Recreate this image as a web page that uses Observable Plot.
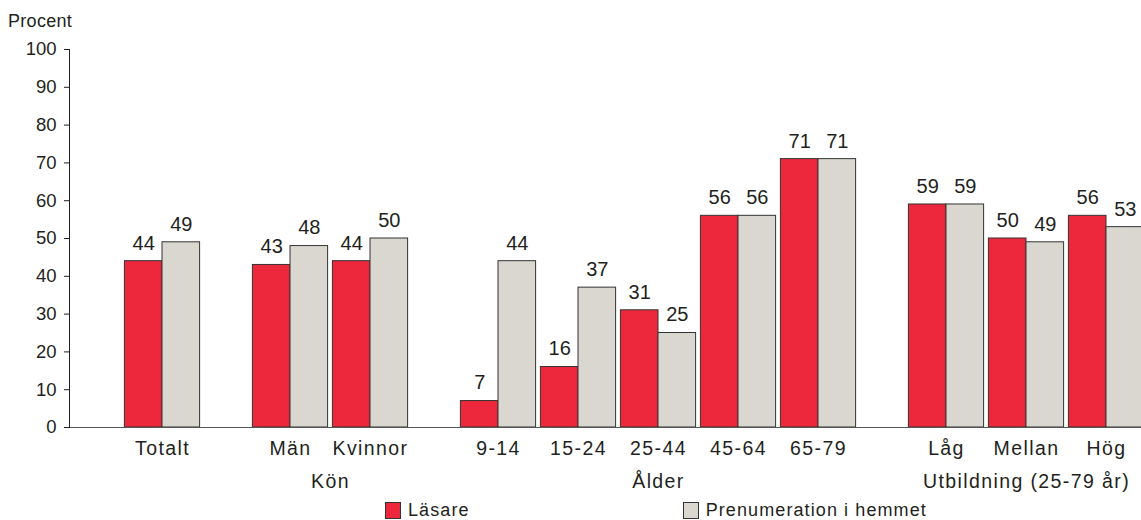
<!DOCTYPE html>
<html>
<head>
<meta charset="utf-8">
<script src="https://cdn.jsdelivr.net/npm/d3@7"></script>
<script src="https://cdn.jsdelivr.net/npm/@observablehq/plot@0.6"></script>
<style>
  html, body { margin: 0; padding: 0; background: #fff; }
  #wrap { position: relative; width: 1141px; height: 520px; overflow: hidden; font-family: "Liberation Sans", Arial, sans-serif; color: #231f20; }
  #ylabel { position: absolute; left: 8px; top: 11px; font-size: 18px; letter-spacing: 0.3px; }
  #legend { position: absolute; top: 500px; left: 385px; display: flex; font-size: 18px; letter-spacing: 1.1px; }
  .item { display: flex; align-items: center; }
  .sw { width: 14px; height: 15px; border: 1px solid #333; margin-right: 7px; }
  #chart { position: absolute; left: 0; top: 0; }
  g[aria-label="x-axis tick label"] text { letter-spacing: 1.4px; font-size: 19.5px; }
</style>
</head>
<body>
<div id="wrap">
  <div id="chart"></div>
  <div id="ylabel">Procent</div>
  <div id="legend"></div>
</div>
<script>
const groupNames = ["", "Kön", "Ålder", "Utbildning (25-79 år)"];
const categories = ["Totalt", "Män", "Kvinnor", "9-14", "15-24", "25-44", "45-64", "65-79", "Låg", "Mellan", "Hög"];
const categoryGroup = [0, 1, 1, 2, 2, 2, 2, 2, 3, 3, 3];
const lasare = [44, 43, 44, 7, 16, 31, 56, 71, 59, 50, 56];
const prenumeration = [49, 48, 50, 44, 37, 25, 56, 71, 59, 49, 53];
const seriesNames = ["Läsare", "Prenumeration i hemmet"];
const yTicks = [0, 10, 20, 30, 40, 50, 60, 70, 80, 90, 100];

const colors = ["#ee283c", "#dad7d0"];
const gapExtra = 0.6;   // extra space between groups, in category steps
const half = 0.47;      // width of one bar, in category steps

const pos = categories.map((c, i) => i + gapExtra * categoryGroup[i]);
const rows = categories.flatMap((c, i) => [
  {cat: c, series: seriesNames[0], x1: pos[i] - half, x2: pos[i], v: lasare[i]},
  {cat: c, series: seriesNames[1], x1: pos[i], x2: pos[i] + half, v: prenumeration[i]}
]);
const groups = groupNames.map((g, gi) => {
  const ps = pos.filter((p, i) => categoryGroup[i] === gi);
  return {name: g, x: d3.mean(ps)};
}).filter(d => d.name !== "");
const labelOf = new Map(pos.map((p, i) => [p, categories[i]]));

const W = 1141, H = 495, mL = 69, mR = 0, mT = 49, mB = H - 427;
const x0 = -(162 - mL) / 80, x1 = (W - 162) / 80;

const chart = Plot.plot({
  width: W, height: H,
  marginLeft: mL, marginRight: mR, marginTop: mT, marginBottom: mB,
  style: {fontFamily: '"Liberation Sans", Arial, sans-serif', fontSize: "19px", color: "#231f20", background: "transparent", overflow: "visible"},
  x: {type: "linear", domain: [x0, x1]},
  y: {domain: [0, 100]},
  color: {domain: seriesNames, range: colors},
  marks: [
    Plot.rectY(rows, {x1: "x1", x2: "x2", y: "v", fill: "series", stroke: "#333", strokeWidth: 1}),
    Plot.text(rows, {x: d => (d.x1 + d.x2) / 2, y: "v", text: d => String(d.v), dy: -18, fontSize: 20, fill: "#231f20"}),
    Plot.ruleY([0], {stroke: "#555", strokeWidth: 1.2}),
    Plot.frame({anchor: "left", stroke: "#231f20"}),
    Plot.axisY({ticks: yTicks, tickSize: 5, tickPadding: 8, label: null, fontSize: 18.5}),
    Plot.axisX({ticks: pos, tickFormat: d => labelOf.get(d), tickSize: 0, tickPadding: 14, label: null, fontSize: 19.5}),
    Plot.text(groups, {x: "x", text: "name", frameAnchor: "bottom", dy: 60, fontSize: 19.5, fill: "#231f20"})
  ]
});
document.getElementById("chart").appendChild(chart);
d3.select(chart).selectAll("text")
  .filter(function() { return groupNames.includes(this.textContent) && this.textContent !== ""; })
  .style("letter-spacing", "1.4px");

const legend = document.getElementById("legend");
seriesNames.forEach((s, i) => {
  const it = document.createElement("div");
  it.className = "item";
  it.style.marginRight = i === 0 ? "213px" : "0";
  it.innerHTML = `<span class="sw" style="background:${colors[i]}"></span><span>${s}</span>`;
  legend.appendChild(it);
});
</script>
</body>
</html>
